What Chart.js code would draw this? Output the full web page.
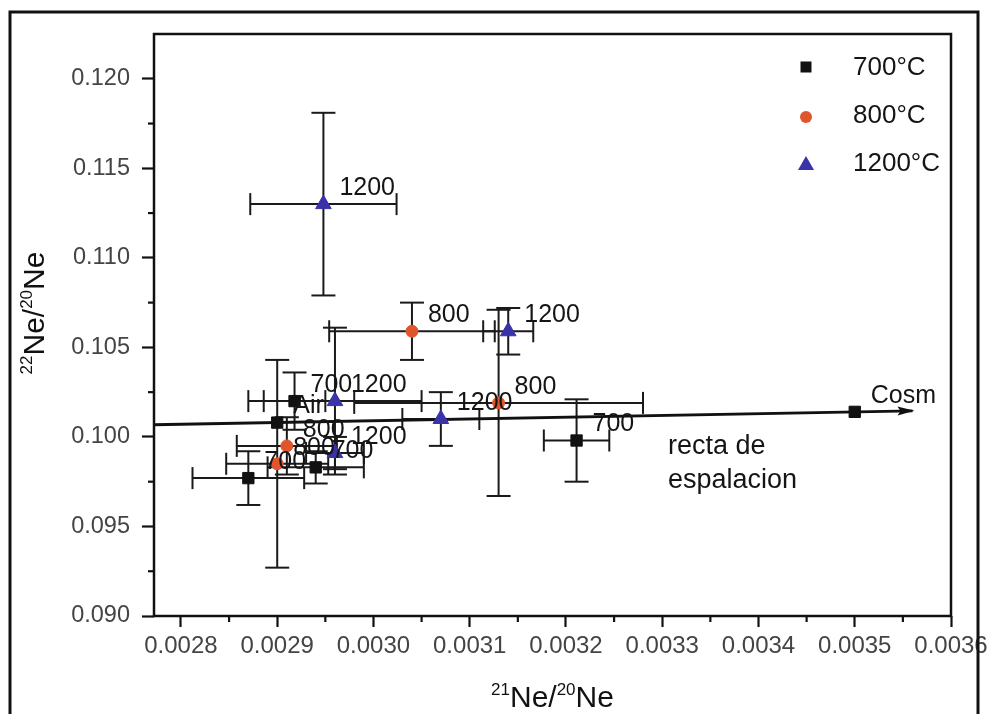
<!DOCTYPE html>
<html>
<head>
<meta charset="utf-8">
<script src="https://cdn.jsdelivr.net/npm/chart.js@4.4.1/dist/chart.umd.min.js"></script>
<style>
  html, body { margin: 0; padding: 0; background: #fff; }
  canvas { display: block; }
</style>
</head>
<body>
<canvas id="c" width="990" height="714"></canvas>
<script>
// ---- 700 °C step (black squares), with the air and cosmogenic end-members ----
const x700   = [0.002918, 0.00290, 0.00287, 0.00294, 0.003211, 0.00350];
const y700   = [0.1020,   0.1008,  0.0977,  0.0983,  0.0998,   0.1014];
const ex700  = [0.000032, 0,       0.000058, 0.00005, 0.000034, 0];
const ey700  = [0.0016,   0,       0.0015,  0.0009,  0.0023,   0];
const lab700 = ['700', 'Air', '700', '700', '700', 'Cosm'];

// ---- 800 °C step (orange circles) ----
const x800   = [0.00304, 0.00313, 0.00291, 0.00290];
const y800   = [0.1059,  0.1019,  0.0995,  0.0985];
const ex800  = [0.000086, 0.00015, 0.000052, 0.000053];
const ey800  = [0.0016,  0.0052,  0.0016,  0.0058];
const lab800 = ['800', '800', '800', '800'];

// ---- 1200 °C step (blue triangles) ----
const x1200   = [0.002948, 0.00314, 0.00307, 0.00296, 0.00296];
const y1200   = [0.1130,   0.1059,  0.1010,  0.1020,  0.0991];
const ex1200  = [0.000076, 0.000026, 0.00004, 0.00009, 0.00003];
const ey1200  = [0.0051,   0.0013,  0.0015,  0.0041,  0.0009];
const lab1200 = ['1200', '1200', '1200', '1200', '1200'];

// ---- spallation line (towards the cosmogenic end-member) ----
const spallX = [0.002772, 0.00356];
const spallY = [0.10068,  0.10146];

// ---- axes ----
const xRange = [0.002772, 0.0036];
const yRange = [0.090, 0.1225];
const xStep = 0.0001, yStep = 0.005;

const FONT = '"Liberation Sans", Arial, Helvetica, sans-serif';
const pts = (xs, ys) => xs.map((v, i) => ({ x: v, y: ys[i] }));

const datasets = [
  { label: '700°C', data: pts(x700, y700), errX: ex700, errY: ey700, tags: lab700,
    pointStyle: 'rect', pointRadius: 8, backgroundColor: '#111', borderColor: '#111', borderWidth: 1 },
  { label: '800°C', data: pts(x800, y800), errX: ex800, errY: ey800, tags: lab800,
    pointStyle: 'circle', pointRadius: 6, backgroundColor: '#e0552c', borderColor: '#e0552c', borderWidth: 1 },
  { label: '1200°C', data: pts(x1200, y1200), errX: ex1200, errY: ey1200, tags: lab1200,
    pointStyle: 'triangle', pointRadius: 9, backgroundColor: '#3a32a8', borderColor: '#3a32a8', borderWidth: 1 },
  { label: 'recta', data: pts(spallX, spallY), showLine: true, arrow: true,
    pointRadius: 0, borderColor: '#111', borderWidth: 2.8, backgroundColor: '#111' }
];

function seg(ctx, x1, y1, x2, y2) {
  ctx.beginPath(); ctx.moveTo(x1, y1); ctx.lineTo(x2, y2); ctx.stroke();
}

// error bars with caps, drawn under the markers
const errorBars = {
  id: 'errorBars',
  beforeDatasetsDraw(chart) {
    const { ctx, scales: { x, y } } = chart;
    ctx.save();
    ctx.strokeStyle = '#1a1a1a';
    ctx.lineWidth = 2;
    chart.data.datasets.forEach(ds => {
      if (!ds.errX) return;
      ds.data.forEach((p, j) => {
        const px = x.getPixelForValue(p.x), py = y.getPixelForValue(p.y);
        const ex = ds.errX[j], ey = ds.errY[j];
        if (ex > 0) {
          const l = x.getPixelForValue(p.x - ex), r = x.getPixelForValue(p.x + ex);
          seg(ctx, l, py, r, py);
          seg(ctx, l, py - 11, l, py + 11);
          seg(ctx, r, py - 11, r, py + 11);
        }
        if (ey > 0) {
          const t = y.getPixelForValue(p.y + ey), b = y.getPixelForValue(p.y - ey);
          seg(ctx, px, t, px, b);
          seg(ctx, px - 12, t, px + 12, t);
          seg(ctx, px - 12, b, px + 12, b);
        }
      });
    });
    ctx.restore();
  }
};

function drawSup(ctx, parts, big, small, rise) {
  // measure then draw centred on the current origin, baseline at y = 0
  let w = 0;
  parts.forEach(([t, sup]) => { ctx.font = (sup ? small : big) + 'px ' + FONT; w += ctx.measureText(t).width; });
  let cx = -w / 2;
  ctx.textAlign = 'left';
  ctx.textBaseline = 'alphabetic';
  parts.forEach(([t, sup]) => {
    ctx.font = (sup ? small : big) + 'px ' + FONT;
    ctx.fillText(t, cx, sup ? -rise : 0);
    cx += ctx.measureText(t).width;
  });
}

const decorations = {
  id: 'decorations',
  afterDatasetsDraw(chart) {
    const { ctx, scales: { x, y } } = chart;
    ctx.save();

    // arrow head on the spallation line
    chart.data.datasets.forEach(ds => {
      if (!ds.arrow) return;
      const n = ds.data.length;
      const x2 = x.getPixelForValue(ds.data[n - 1].x), y2 = y.getPixelForValue(ds.data[n - 1].y);
      const x1 = x.getPixelForValue(ds.data[n - 2].x), y1 = y.getPixelForValue(ds.data[n - 2].y);
      const ang = Math.atan2(y2 - y1, x2 - x1);
      ctx.save();
      ctx.translate(x2, y2); ctx.rotate(ang);
      ctx.fillStyle = '#111';
      ctx.beginPath(); ctx.moveTo(2, 0); ctx.lineTo(-15, -4.5); ctx.lineTo(-12, 0); ctx.lineTo(-15, 4.5); ctx.closePath();
      ctx.fill();
      ctx.restore();
    });

    // point tags
    ctx.fillStyle = '#151515';
    ctx.font = '25px ' + FONT;
    ctx.textAlign = 'left';
    ctx.textBaseline = 'middle';
    chart.data.datasets.forEach(ds => {
      if (!ds.tags) return;
      ds.data.forEach((p, j) => {
        ctx.fillText(ds.tags[j], x.getPixelForValue(p.x) + 16, y.getPixelForValue(p.y) - 16);
      });
    });

    // spallation line caption
    const capX = x.getPixelForValue(0.003306), capY = y.getPixelForValue(0.09945);
    ctx.font = '27px ' + FONT;
    ctx.fillText('recta de', capX, capY);
    ctx.fillText('espalacion', capX, capY + 34);

    ctx.restore();
  },
  afterDraw(chart) {
    const { ctx, chartArea: a, scales: { x, y } } = chart;
    ctx.save();
    ctx.strokeStyle = '#111';

    // plot box
    ctx.lineWidth = 2.5;
    ctx.strokeRect(a.left, a.top, a.right - a.left, a.bottom - a.top);

    // outer frame
    ctx.lineWidth = 3;
    ctx.strokeRect(10, 12, 968, 740);

    // minor ticks
    ctx.lineWidth = 2.2;
    for (let v = 0.00285; v < xRange[1]; v += xStep) {
      const px = x.getPixelForValue(v);
      seg(ctx, px, a.bottom, px, a.bottom + 6);
    }
    for (let v = 0.0925; v < yRange[1]; v += yStep) {
      const py = y.getPixelForValue(v);
      seg(ctx, a.left - 6, py, a.left, py);
    }

    // axis titles with isotope superscripts
    ctx.fillStyle = '#111';
    ctx.save();
    ctx.translate((a.left + a.right) / 2, 707);
    drawSup(ctx, [['21', true], ['Ne/', false], ['20', true], ['Ne', false]], 30, 17, 12);
    ctx.restore();
    ctx.save();
    ctx.translate(44, 313);
    ctx.rotate(-Math.PI / 2);
    drawSup(ctx, [['22', true], ['Ne/', false], ['20', true], ['Ne', false]], 30, 17, 12);
    ctx.restore();

    // legend
    const lx = 806, tx = 853, ly0 = 67, dy = 48;
    chart.data.datasets.filter(ds => ds.tags).forEach((ds, i) => {
      const ly = ly0 + i * dy;
      ctx.fillStyle = ds.backgroundColor;
      if (ds.pointStyle === 'rect') {
        ctx.fillRect(lx - 5.5, ly - 5.5, 11, 11);
      } else if (ds.pointStyle === 'circle') {
        ctx.beginPath(); ctx.arc(lx, ly + 2, 6, 0, Math.PI * 2); ctx.fill();
      } else {
        ctx.beginPath(); ctx.moveTo(lx, ly - 7); ctx.lineTo(lx + 8, ly + 7); ctx.lineTo(lx - 8, ly + 7); ctx.closePath(); ctx.fill();
      }
      ctx.fillStyle = '#151515';
      ctx.font = '26px ' + FONT;
      ctx.textAlign = 'left';
      ctx.textBaseline = 'middle';
      ctx.fillText(ds.label, tx, ly + 1);
    });

    ctx.restore();
  }
};

new Chart(document.getElementById('c'), {
  type: 'scatter',
  data: { datasets },
  options: {
    responsive: false,
    animation: false,
    devicePixelRatio: 1,
    layout: { padding: { left: 0, top: 34, right: 39, bottom: 0 } },
    plugins: { legend: { display: false }, tooltip: { enabled: false } },
    scales: {
      x: {
        type: 'linear', min: xRange[0], max: xRange[1],
        afterFit: s => { s.height = 98; s.paddingLeft = 0; s.paddingRight = 0; },
        border: { display: false },
        grid: { display: true, drawOnChartArea: false, drawTicks: true, tickLength: 11, tickWidth: 2.2, tickColor: '#111' },
        ticks: { stepSize: xStep, includeBounds: false, padding: 5, color: '#444',
                 font: { family: FONT, size: 24 }, maxRotation: 0, autoSkip: false,
                 callback: v => Number(v).toFixed(4) }
      },
      y: {
        type: 'linear', min: yRange[0], max: yRange[1],
        afterFit: s => { s.width = 154; s.paddingTop = 0; s.paddingBottom = 0; },
        border: { display: false },
        grid: { display: true, drawOnChartArea: false, drawTicks: true, tickLength: 12, tickWidth: 2.2, tickColor: '#111' },
        ticks: { stepSize: yStep, includeBounds: false, padding: 12, color: '#444',
                 font: { family: FONT, size: 23.5 }, autoSkip: false,
                 callback: v => Number(v).toFixed(3) }
      }
    }
  },
  plugins: [errorBars, decorations]
});
</script>
</body>
</html>
